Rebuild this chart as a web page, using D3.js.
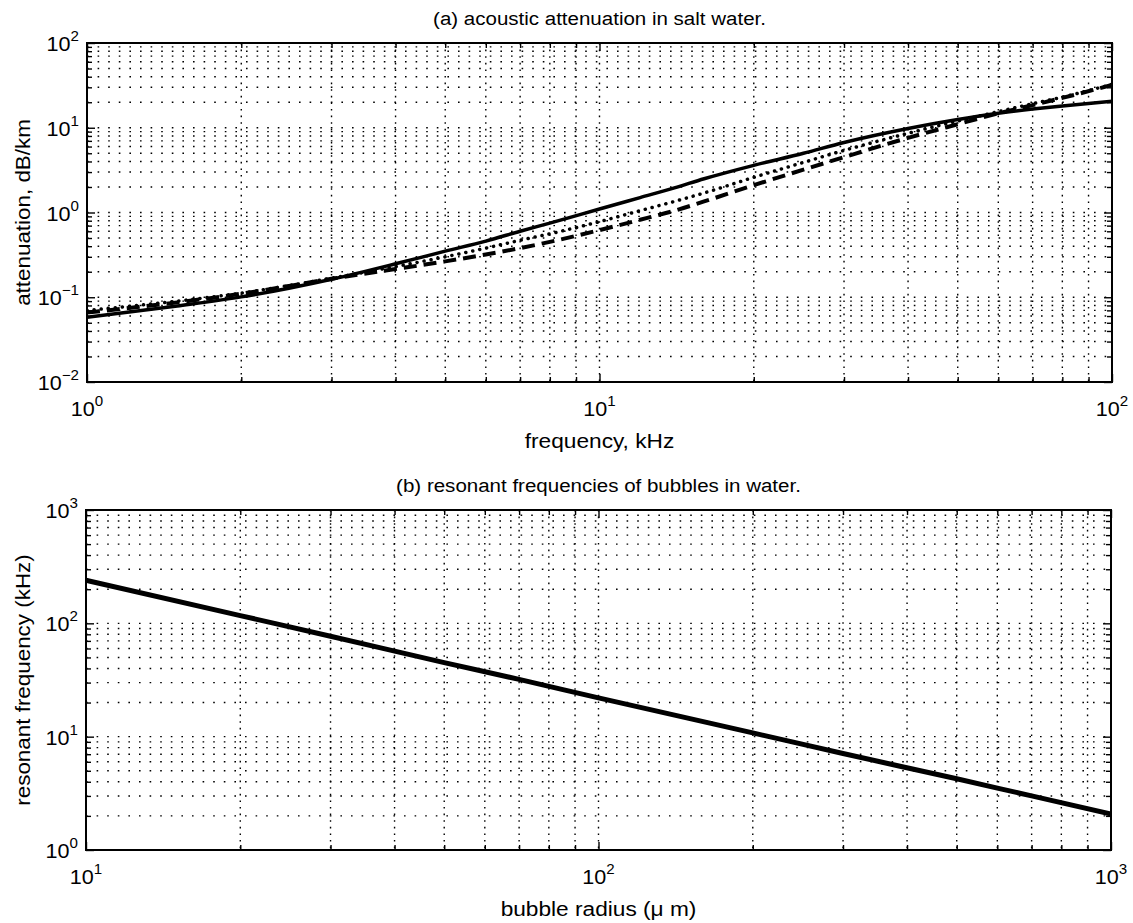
<!DOCTYPE html>
<html>
<head>
<meta charset="utf-8">
<script src="https://cdn.jsdelivr.net/npm/d3@7"></script>
<style>
  body { margin: 0; background: #fff; }
  svg { display: block; }
  text { font-family: "Liberation Sans", Arial, Helvetica, sans-serif; fill: #000; }
</style>
</head>
<body>
<svg id="chart" width="1133" height="923"></svg>
<script>
// (a) acoustic attenuation in salt water, dB/km vs frequency in kHz
const frequencyKHz = [1, 1.5, 2, 3, 4, 5, 6, 7, 8, 10, 12, 14, 16, 20, 25, 30, 40, 50, 60, 70, 80, 100];
const attenSolid   = [0.058, 0.079, 0.101, 0.163, 0.248, 0.35, 0.46, 0.60, 0.75, 1.10, 1.50, 1.95, 2.50, 3.60, 5.0, 6.7, 9.8, 12.5, 14.8, 16.6, 18.1, 20.6];
const attenDotted  = [0.070, 0.090, 0.112, 0.168, 0.230, 0.30, 0.38, 0.47, 0.56, 0.78, 1.05, 1.35, 1.70, 2.60, 3.9, 5.4, 8.6, 12.0, 15.5, 19.2, 23.0, 32.5];
const attenDashed  = [0.066, 0.087, 0.110, 0.165, 0.215, 0.265, 0.32, 0.38, 0.45, 0.62, 0.82, 1.05, 1.35, 2.10, 3.2, 4.5, 7.6, 11.0, 14.8, 18.5, 22.5, 32.0];

// (b) resonant frequencies of bubbles in water, kHz vs radius in micrometres
const radiusUm    = [10, 20, 30, 50, 70, 100, 200, 300, 500, 700, 1000];
const resonantKHz = [240, 117, 77, 45, 32, 22, 10.8, 7.1, 4.25, 3.0, 2.08];

// axis extents (decades) and texts
const topXDomain = [1, 100];
const topYDomain = [0.01, 100];
const botXDomain = [10, 1000];
const botYDomain = [1, 1000];
const topTitle = "(a) acoustic attenuation in salt water.";
const topXLabel = "frequency, kHz";
const topYLabel = "attenuation, dB/km";
const botTitle = "(b) resonant frequencies of bubbles in water.";
const botXLabel = "bubble radius (\u03bc m)";
const botYLabel = "resonant frequency (kHz)";

const svg = d3.select("#chart");
const SX = 1.08;   // glyphs are drawn slightly wide

function logTicks(domain) {
  const lo = Math.round(Math.log10(domain[0]));
  const hi = Math.round(Math.log10(domain[1]));
  const major = [], minor = [];
  for (let e = lo; e <= hi; e++) {
    major.push(Math.pow(10, e));
    if (e < hi) for (let k = 2; k <= 9; k++) minor.push(k * Math.pow(10, e));
  }
  return { major, minor };
}

function powerLabel(g, x, y, value, anchor) {
  const e = Math.round(Math.log10(value));
  const t = g.append("text")
    .attr("transform", `translate(${x},${y}) scale(${SX},1)`)
    .attr("text-anchor", anchor)
    .style("font-size", "20px");
  t.append("tspan").text("10");
  t.append("tspan").attr("dy", -10).style("font-size", "14px")
    .text(e < 0 ? "\u2212" + (-e) : String(e));
}

function plainText(g, x, y, str, size) {
  g.append("text")
    .attr("transform", `translate(${x},${y}) scale(${SX},1)`)
    .attr("text-anchor", "middle")
    .style("font-size", size + "px")
    .text(str);
}

function drawPanel(cfg) {
  const { left, right, top, bottom } = cfg.box;
  const x = d3.scaleLog().domain(cfg.xDomain).range([left, right]);
  const y = d3.scaleLog().domain(cfg.yDomain).range([bottom, top]);
  const g = svg.append("g");
  const xt = logTicks(cfg.xDomain), yt = logTicks(cfg.yDomain);

  // dotted grid at every major and minor tick
  const grid = g.append("g").attr("stroke", "#000").attr("stroke-width", 1.4);
  xt.major.concat(xt.minor).filter(v => v > cfg.xDomain[0] && v < cfg.xDomain[1]).forEach(v => {
    grid.append("line").attr("x1", x(v)).attr("x2", x(v)).attr("y1", top).attr("y2", bottom)
      .attr("stroke-dasharray", "1.6,5");
  });
  yt.major.concat(yt.minor).filter(v => v > cfg.yDomain[0] && v < cfg.yDomain[1]).forEach(v => {
    grid.append("line").attr("y1", y(v)).attr("y2", y(v)).attr("x1", left).attr("x2", right)
      .attr("stroke-dasharray", "1.6,9");
  });

  // inward ticks on all four sides
  const sides = [
    [d3.axisBottom(x), `translate(0,${bottom})`, xt],
    [d3.axisTop(x), `translate(0,${top})`, xt],
    [d3.axisLeft(y), `translate(${left},0)`, yt],
    [d3.axisRight(y), `translate(${right},0)`, yt]
  ];
  sides.forEach(([axis, tr, ticks]) => {
    [[ticks.major, 8], [ticks.minor, 5]].forEach(([vals, len]) => {
      const a = g.append("g").attr("transform", tr)
        .call(axis.tickValues(vals).tickSize(-len).tickFormat(""));
      a.select(".domain").remove();
      a.selectAll("line").attr("stroke", "#000").attr("stroke-width", 1.4);
    });
  });

  // curves
  const clipId = cfg.id + "-clip";
  svg.append("clipPath").attr("id", clipId).append("rect")
    .attr("x", left).attr("y", top).attr("width", right - left).attr("height", bottom - top);
  const line = d3.line().x(d => x(d[0])).y(d => y(d[1])).curve(d3.curveMonotoneX);
  const curves = g.append("g").attr("clip-path", `url(#${clipId})`).attr("fill", "none").attr("stroke", "#000");
  cfg.series.forEach(s => {
    const p = curves.append("path")
      .datum(cfg.xs.map((v, i) => [v, s.values[i]]))
      .attr("d", line)
      .attr("stroke-width", s.width)
      .attr("stroke-linecap", s.cap || "butt")
      .attr("stroke-linejoin", "round");
    if (s.dash) p.attr("stroke-dasharray", s.dash);
  });

  // frame
  g.append("rect").attr("x", left).attr("y", top).attr("width", right - left).attr("height", bottom - top)
    .attr("fill", "none").attr("stroke", "#000").attr("stroke-width", 2);

  // tick labels
  xt.major.forEach(v => powerLabel(g, x(v), bottom + 34, v, "middle"));
  yt.major.forEach(v => powerLabel(g, left - 8, y(v) + 8, v, "end"));

  // titles
  plainText(g, (left + right) / 2, top - 18, cfg.title, 19);
  plainText(g, (left + right) / 2, bottom + 66, cfg.xLabel, 21);
  g.append("text")
    .attr("transform", `translate(30,${(top + bottom) / 2}) rotate(-90) scale(1.12,1.05)`)
    .attr("text-anchor", "middle")
    .style("font-size", "20px")
    .text(cfg.yLabel);
}

drawPanel({
  id: "atten",
  box: { left: 87, right: 1112, top: 43, bottom: 382 },
  xDomain: topXDomain, yDomain: topYDomain,
  xs: frequencyKHz,
  series: [
    { values: attenDashed, width: 4, dash: "13,7" },
    { values: attenDotted, width: 3.5, dash: "0.1,7", cap: "round" },
    { values: attenSolid, width: 3.5 }
  ],
  title: topTitle, xLabel: topXLabel, yLabel: topYLabel
});

drawPanel({
  id: "bubble",
  box: { left: 86, right: 1111, top: 510, bottom: 850 },
  xDomain: botXDomain, yDomain: botYDomain,
  xs: radiusUm,
  series: [{ values: resonantKHz, width: 5 }],
  title: botTitle, xLabel: botXLabel, yLabel: botYLabel
});
</script>
</body>
</html>
